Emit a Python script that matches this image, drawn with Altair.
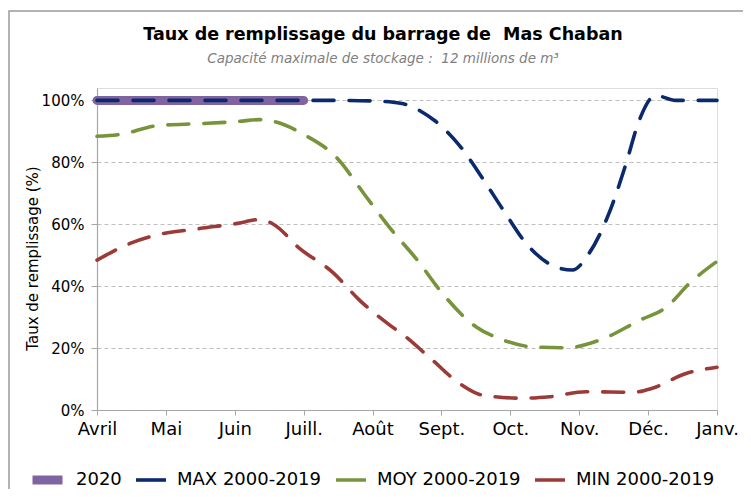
import altair as alt
import pandas as pd

# ---- data (month index: 0 = Avril ... 9 = Janv.) ----
months = ["Avril", "Mai", "Juin", "Juill.", "Août", "Sept.", "Oct.", "Nov.", "Déc.", "Janv."]
series_names = ["2020", "MAX 2000-2019", "MOY 2000-2019", "MIN 2000-2019"]
series_colors = ["#8064a2", "#0b2a6e", "#77933c", "#9b3a37"]
series_widths = [9, 3.6, 3.6, 3.6]
series_dashes = [[1, 0], [21, 15], [21, 15], [21, 15]]

y2020_x = [0, 1, 2, 3]
y2020_y = [100, 100, 100, 100]

max_x = [0, 1, 2, 3, 3.5, 4.0, 4.3, 4.55, 4.7, 4.9, 5.26, 5.6, 5.9, 6.23, 6.66, 6.9, 7.14, 7.43, 7.68, 7.87, 8.11, 8.4, 9]
max_y = [100, 100, 100, 100, 100, 99.8, 99.4, 98.2, 96.5, 93.5, 85.5, 74.7, 64.5, 53.8, 46.2, 45.2, 50.5, 63.4, 79.6, 93.5, 101.6, 100, 100]

moy_x = [0, 0.33, 0.9, 1.5, 2.05, 2.36, 2.6, 3.0, 3.47, 3.91, 4.3, 4.65, 4.98, 5.5, 5.85, 6.32, 6.81, 7.3, 7.88, 8.27, 8.6, 9]
moy_y = [88.4, 89.0, 91.9, 92.5, 93.2, 93.8, 93.0, 89.0, 81.7, 68.8, 57.5, 48.4, 38.6, 26.9, 23.0, 20.4, 20.1, 22.6, 29.0, 33.3, 40.9, 48.0]

min_x = [0, 0.48, 0.86, 1.49, 2.02, 2.36, 2.56, 2.94, 3.43, 3.81, 4.25, 4.45, 4.87, 5.26, 5.6, 6.18, 6.57, 7.1, 7.77, 8.06, 8.55, 9]
min_y = [48.4, 53.8, 56.5, 58.6, 60.2, 61.5, 60.0, 52.2, 44.3, 35.5, 27.4, 24.2, 16.1, 8.6, 4.8, 3.8, 4.3, 5.9, 5.7, 7.0, 11.8, 13.8]

y_ticks = [0, 20, 40, 60, 80, 100]

df2020 = pd.DataFrame({"mois": y2020_x, "taux": y2020_y, "serie": series_names[0]})
rows = []
for name, xs, ys in [(series_names[1], max_x, max_y),
                     (series_names[2], moy_x, moy_y),
                     (series_names[3], min_x, min_y)]:
    rows += [{"mois": x, "taux": y, "serie": name} for x, y in zip(xs, ys)]
dfhist = pd.DataFrame(rows)

FONT = "DejaVu Sans"
AXIS_GRAY = "#a6a6a6"

month_expr = "[" + ",".join("'" + m + "'" for m in months) + "][datum.value]"

x_enc = alt.X("mois:Q", scale=alt.Scale(domain=[0, 9], nice=False, zero=False),
              axis=alt.Axis(values=list(range(10)), labelExpr=month_expr, title=None,
                            grid=False, labelAngle=0, labelFlush=False, labelOverlap=False,
                            labelFont=FONT, labelFontSize=18, labelColor="#000000",
                            labelPadding=5, tickSize=5, tickColor=AXIS_GRAY,
                            domainColor=AXIS_GRAY, domainWidth=1.2))
y_enc = alt.Y("taux:Q", scale=alt.Scale(domain=[0, 104], nice=False),
              axis=alt.Axis(values=y_ticks, labelExpr="datum.value + '%'",
                            title="Taux de remplissage (%)", titleFont=FONT,
                            titleFontSize=15, titleFontWeight="normal", titleColor="#000000",
                            titleX=-65, titleY=170, titleBaseline="middle", titleAngle=270,
                            labelFont=FONT, labelFontSize=15, labelColor="#000000",
                            labelPadding=7, tickSize=6, tickColor=AXIS_GRAY,
                            domainColor=AXIS_GRAY, domainWidth=1.2,
                            grid=True, gridColor="#bfbfbf", gridDash=[4, 3], gridWidth=1))

legend = alt.Legend(
    orient="none", legendX=-69, legendY=382, direction="horizontal", title=None,
    symbolType="stroke", symbolSize=900, clipHeight=20,
    labelFont=FONT, labelFontSize=18, labelColor="#000000", labelOffset=9,
    columnPadding=12, labelLimit=300,
)
color_scale = alt.Scale(domain=series_names, range=series_colors)
width_scale = alt.Scale(type="ordinal", domain=series_names, range=series_widths)
dash_scale = alt.Scale(domain=series_names, range=series_dashes)

# visible lines (no legend of their own)
color_plain = alt.Color("serie:N", scale=color_scale, legend=None)
width_plain = alt.StrokeWidth("serie:N", scale=width_scale, legend=None)
dash_plain = alt.StrokeDash("serie:N", scale=dash_scale, legend=None)

frame = alt.Chart(pd.DataFrame({"k": [0]})).mark_rect(
    fillOpacity=0, stroke="#9a9a9a", strokeWidth=1.5
).encode(x=alt.value(-88), x2=alt.value(700), y=alt.value(-77), y2=alt.value(430))

line2020 = alt.Chart(df2020).mark_line(strokeCap="round").encode(
    x=x_enc, y=y_enc, color=color_plain, strokeWidth=width_plain, strokeDash=dash_plain)

lines = alt.Chart(dfhist).mark_line(
    strokeCap="round", interpolate="monotone"
).encode(x=x_enc, y=y_enc, color=color_plain, strokeWidth=width_plain, strokeDash=dash_plain)

# legend-only layer: no rows drawn, solid symbols
legend_layer = alt.Chart(df2020).transform_filter("false").mark_line().encode(
    x=x_enc, y=y_enc,
    color=alt.Color("serie:N", scale=color_scale, legend=legend),
    strokeWidth=alt.StrokeWidth("serie:N", scale=width_scale, legend=legend),
)

chart = alt.layer(frame, line2020, lines, legend_layer).resolve_scale(
    color="independent", strokeWidth="independent"
).resolve_legend(color="independent", strokeWidth="independent").properties(
    width=620, height=322,
    autosize=alt.AutoSizeParams(type="none"),
    padding={"left": 89, "top": 80, "right": 26, "bottom": 79},
    title=alt.Title(
        "Taux de remplissage du barrage de\u00a0 Mas Chaban",
        subtitle="Capacité maximale de stockage :\u00a0 12 millions de m³",
        font=FONT, fontSize=17.5, fontWeight="bold", color="#000000",
        subtitleFont=FONT, subtitleFontSize=13.5, subtitleFontStyle="italic",
        subtitleColor="#808080", subtitlePadding=8,
        anchor="middle", frame="group", dx=-24, offset=-55,
    ),
).configure_view(stroke=None).configure(background="white")

chart.save("out.html", embed_options={"renderer": "svg", "actions": False})
